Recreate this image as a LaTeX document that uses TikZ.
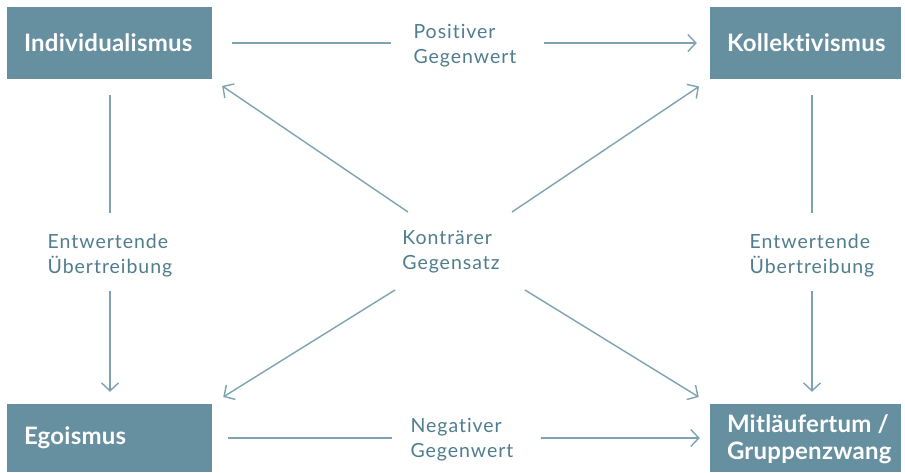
\documentclass[tikz,border=0pt]{standalone}
\usepackage{fontspec}
\setmainfont{Lato}[Ligatures=NoCommon]
\newfontfamily\labfont{Lato}[Ligatures=NoCommon, LetterSpace=5]
\newfontfamily\boxfont{Lato}[Ligatures=NoCommon, LetterSpace=1]
\usetikzlibrary{arrows.meta}
\definecolor{boxfill}{HTML}{668FA0}
\definecolor{labtext}{HTML}{4F7D8E}
\definecolor{lncol}{HTML}{7DA3B3}
\tikzset{
  boxshape/.style={fill=boxfill, inner sep=0pt},
  boxtext/.style={text=white, font=\fontsize{24}{27}\selectfont\boxfont\bfseries,
    anchor=west, align=left, inner sep=0pt},
  labnode/.style={text=labtext, font=\fontsize{19.5}{25}\selectfont\labfont, align=left, inner sep=0pt},
  ln/.style={draw=lncol, line width=1.4pt},
  arr/.style={ln, -{Straight Barb[length=8pt,width=17pt]}}
}
\begin{document}
\begin{tikzpicture}[x=1pt,y=-1pt]
\useasboundingbox (0,0) rectangle (905,472);
% boxes
\node[boxshape, minimum width=205pt, minimum height=72pt] (I) at (109.5,43) {};
\node[boxshape, minimum width=191pt, minimum height=72pt] (K) at (805.5,43) {};
\node[boxshape, minimum width=205pt, minimum height=68pt] (E) at (109.5,438) {};
\node[boxshape, minimum width=191pt, minimum height=68pt] (M) at (805.5,438) {};
\node[boxtext] (It) at ([xshift=17pt]I.west) {Individualismus};
\node[boxtext] (Kt) at ([xshift=17pt]K.west) {Kollektivismus};
\node[boxtext] (Et) at ([xshift=17pt]E.west) {Egoismus};
\node[boxtext] (Mt) at ([xshift=17pt,yshift=-1pt]M.west) {Mitläufertum /\\Gruppenzwang};
% labels
\node[labnode] (PG) at (465,46) {Positiver\\Gegenwert};
\node[labnode] (NG) at (462,440) {Negativer\\Gegenwert};
\node[labnode] (KG) at (451,252) {Konträrer\\Gegensatz};
\node[labnode] (EL) at (110,256) {Entwertende\\Übertreibung};
\node[labnode] (ER) at (812,256) {Entwertende\\Übertreibung};
% horizontal connectors
\draw[ln, shorten <=20pt, shorten >=22pt] (I.east) -- (PG.west |- I.east);
\draw[arr, shorten <=27pt, shorten >=13pt] (PG.east |- K.west) -- (K.west);
\draw[ln, shorten <=16pt, shorten >=18pt] (E.east) -- (NG.west |- E.east);
\draw[arr, shorten <=27pt, shorten >=10pt] (NG.east |- M.west) -- (M.west);
% vertical connectors
\draw[ln, shorten <=16pt, shorten >=21pt] (I.south -| EL.north) -- (EL.north);
\draw[arr, shorten <=13pt, shorten >=12pt] (EL.south) -- (EL.south |- E.north);
\draw[ln, shorten <=16pt, shorten >=21pt] (K.south -| ER.north) -- (ER.north);
\draw[arr, shorten <=13pt, shorten >=12pt] (ER.south) -- (ER.south |- M.north);
% diagonal connectors
\coordinate (d1) at (408,212);
\coordinate (d2) at (512,212);
\coordinate (d3) at (395,290);
\coordinate (d4) at (525,290);
\draw[arr, shorten >=12pt] (d1) -- (I.south east);
\draw[arr, shorten >=13pt] (d2) -- (K.south west);
\draw[arr, shorten >=13pt] (d3) -- (E.north east);
\draw[arr, shorten >=13pt] (d4) -- (M.north west);
\end{tikzpicture}
\end{document}
